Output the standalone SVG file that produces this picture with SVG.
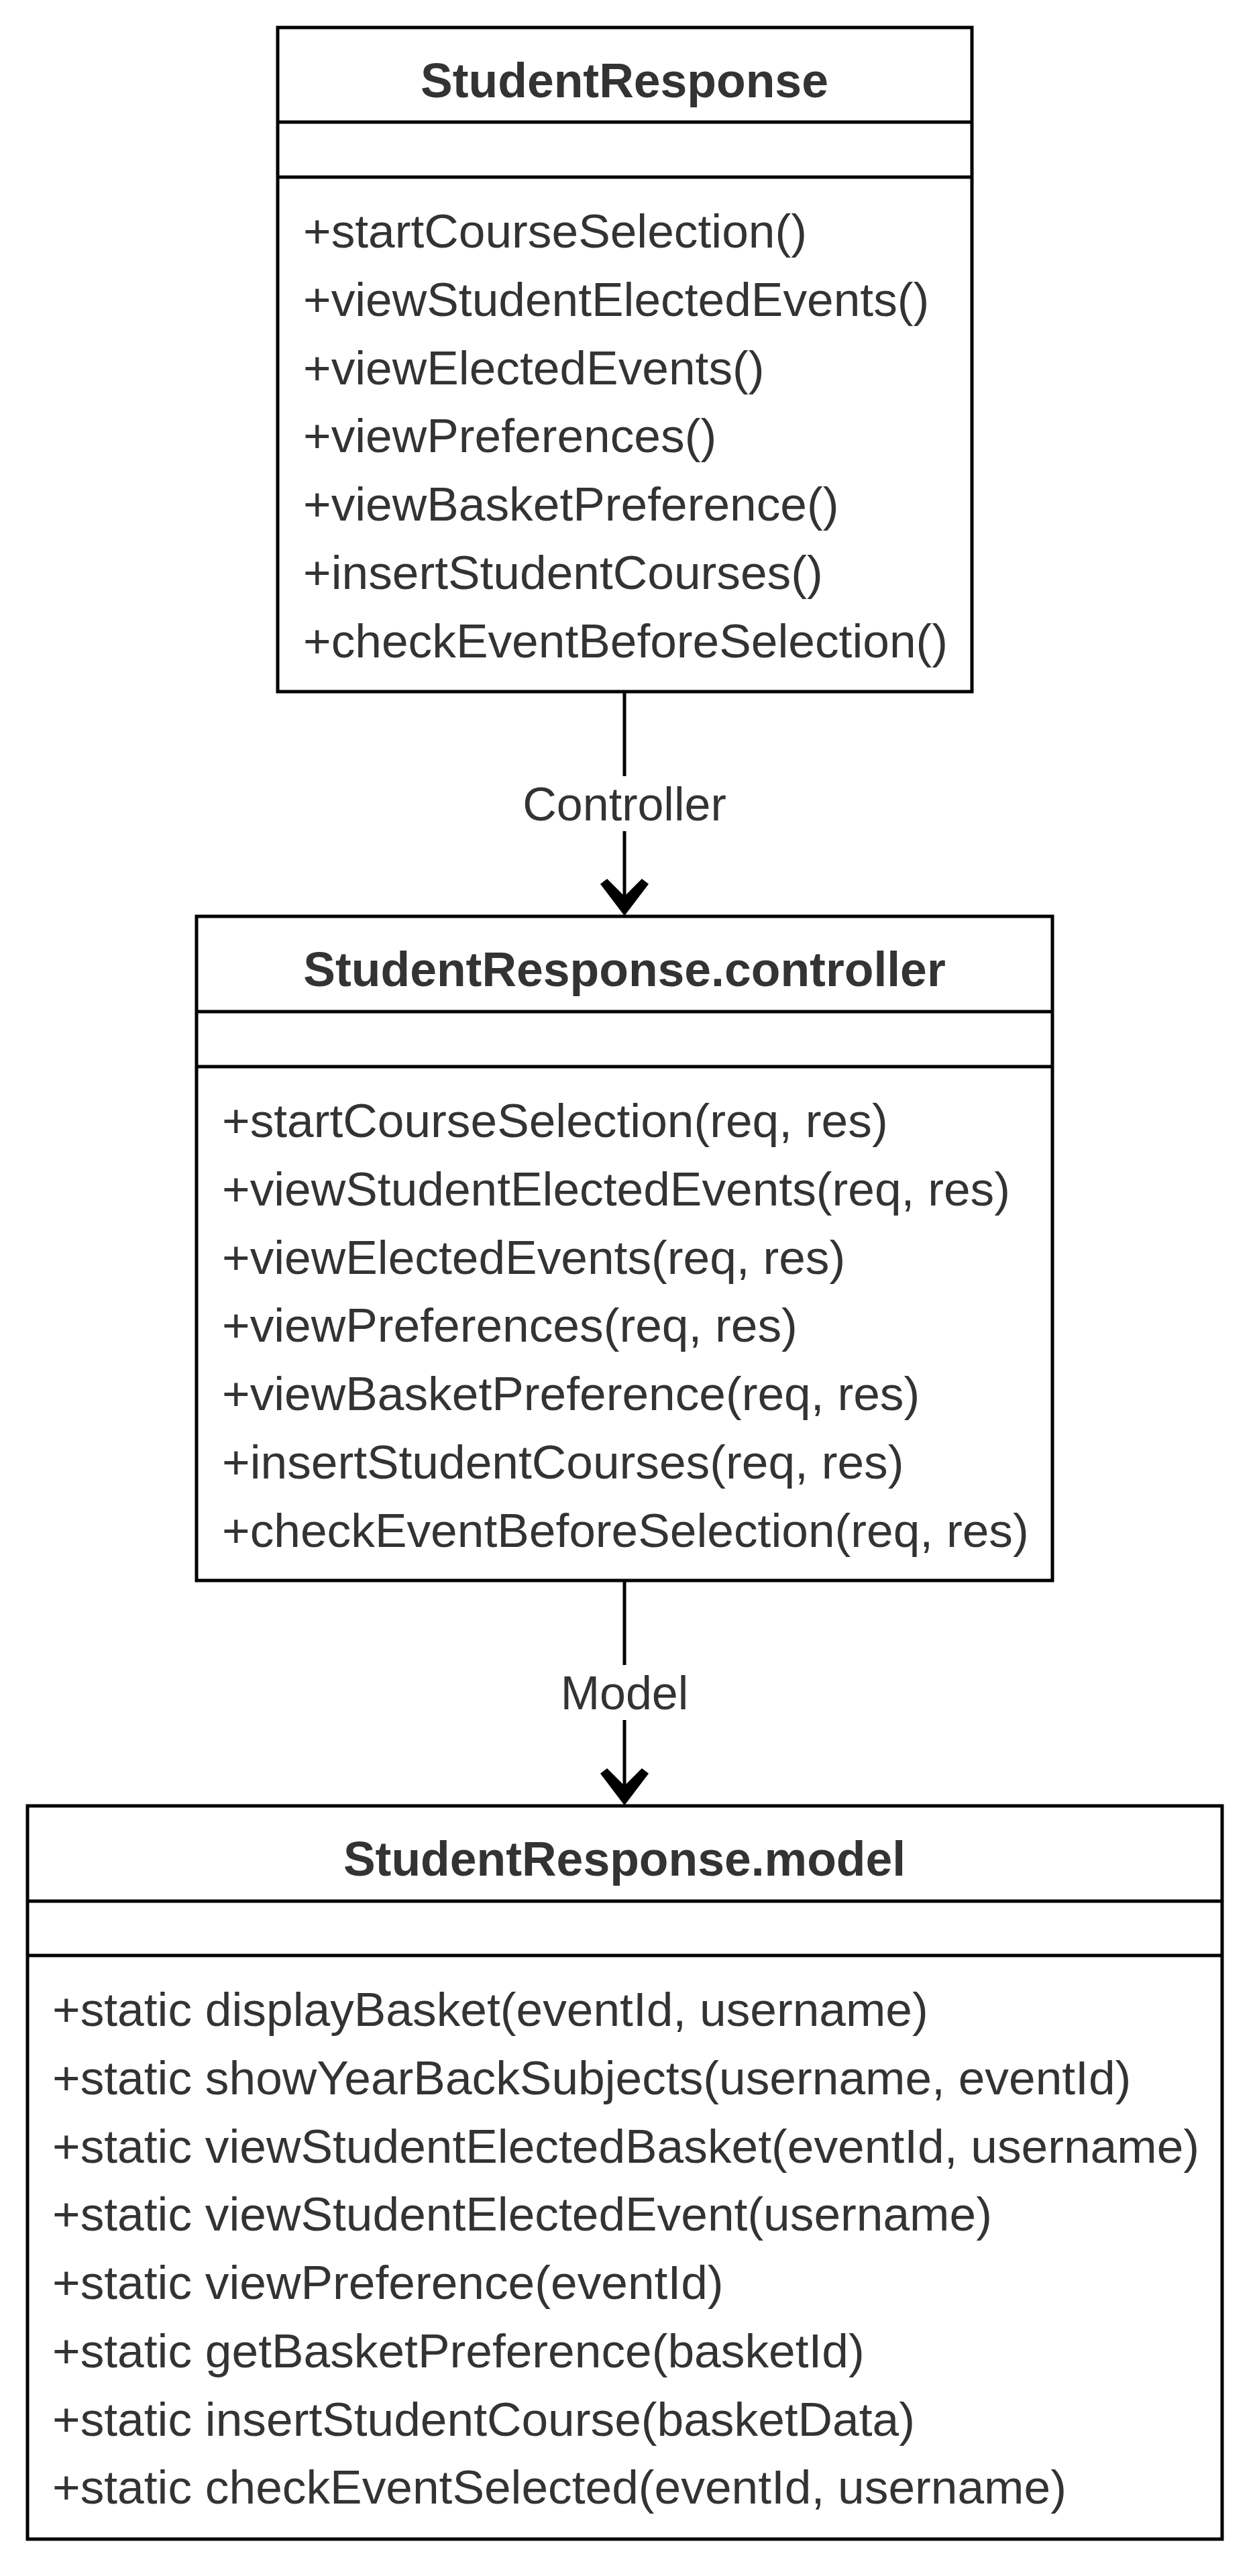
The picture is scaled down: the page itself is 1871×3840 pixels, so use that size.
<svg xmlns="http://www.w3.org/2000/svg" width="1871" height="3840" viewBox="0 0 1871 3840">
<style>
.box{fill:#ffffff;stroke:#000000;stroke-width:5}
.div{stroke:#000000;stroke-width:5}
.title{font-family:"Liberation Sans",Arial,sans-serif;font-weight:bold;font-size:71.5px;fill:#333333;text-anchor:middle}
.m{font-family:"Liberation Sans",Arial,sans-serif;font-size:71.3px;fill:#333333}
.lbl{font-family:"Liberation Sans",Arial,sans-serif;font-size:70px;fill:#333333;text-anchor:middle}
.edge{stroke:#000000;stroke-width:5;fill:none}
.head{fill:#000000;stroke:#000000;stroke-width:1.5;stroke-linejoin:miter}
</style>
<rect width="1871" height="3840" fill="#ffffff"/>
<g id="connectors">
  <g id="edge-controller">
    <line class="edge" x1="931" y1="1031" x2="931" y2="1157"/>
    <line class="edge" x1="931" y1="1239" x2="931" y2="1345"/>
    <polygon class="head" points="931,1364 896,1318 905,1311 931,1337 957,1311 966,1318"/>
    <text class="lbl" x="931" y="1223">Controller</text>
  </g>
  <g id="edge-model">
    <line class="edge" x1="931" y1="2356" x2="931" y2="2482"/>
    <line class="edge" x1="931" y1="2564" x2="931" y2="2671"/>
    <polygon class="head" points="931,2690 896,2644 905,2637 931,2663 957,2637 966,2644"/>
    <text class="lbl" x="931" y="2548">Model</text>
  </g>
</g>
<g id="StudentResponse">
  <rect class="box" x="414" y="41" width="1035" height="990"/>
  <line class="div" x1="414" y1="182" x2="1449" y2="182"/>
  <line class="div" x1="414" y1="264" x2="1449" y2="264"/>
  <text class="title" x="931" y="145">StudentResponse</text>
  <text class="m" x="452" y="369">+startCourseSelection()</text>
  <text class="m" x="452" y="471">+viewStudentElectedEvents()</text>
  <text class="m" x="452" y="573">+viewElectedEvents()</text>
  <text class="m" x="452" y="674">+viewPreferences()</text>
  <text class="m" x="452" y="776">+viewBasketPreference()</text>
  <text class="m" x="452" y="878">+insertStudentCourses()</text>
  <text class="m" x="452" y="980">+checkEventBeforeSelection()</text>
</g>
<g id="StudentResponse.controller">
  <rect class="box" x="293" y="1366" width="1276" height="990"/>
  <line class="div" x1="293" y1="1508" x2="1569" y2="1508"/>
  <line class="div" x1="293" y1="1590" x2="1569" y2="1590"/>
  <text class="title" x="931" y="1470">StudentResponse.controller</text>
  <text class="m" x="331" y="1695">+startCourseSelection(req, res)</text>
  <text class="m" x="331" y="1797">+viewStudentElectedEvents(req, res)</text>
  <text class="m" x="331" y="1899">+viewElectedEvents(req, res)</text>
  <text class="m" x="331" y="2000">+viewPreferences(req, res)</text>
  <text class="m" x="331" y="2102">+viewBasketPreference(req, res)</text>
  <text class="m" x="331" y="2204">+insertStudentCourses(req, res)</text>
  <text class="m" x="331" y="2306">+checkEventBeforeSelection(req, res)</text>
</g>
<g id="StudentResponse.model">
  <rect class="box" x="41" y="2692" width="1781" height="1093"/>
  <line class="div" x1="41" y1="2834" x2="1822" y2="2834"/>
  <line class="div" x1="41" y1="2915" x2="1822" y2="2915"/>
  <text class="title" x="931" y="2796">StudentResponse.model</text>
  <text class="m" x="78" y="3020">+static displayBasket(eventId, username)</text>
  <text class="m" x="78" y="3122">+static showYearBackSubjects(username, eventId)</text>
  <text class="m" x="78" y="3224">+static viewStudentElectedBasket(eventId, username)</text>
  <text class="m" x="78" y="3325">+static viewStudentElectedEvent(username)</text>
  <text class="m" x="78" y="3427">+static viewPreference(eventId)</text>
  <text class="m" x="78" y="3529">+static getBasketPreference(basketId)</text>
  <text class="m" x="78" y="3631">+static insertStudentCourse(basketData)</text>
  <text class="m" x="78" y="3732">+static checkEventSelected(eventId, username)</text>
</g>
</svg>
